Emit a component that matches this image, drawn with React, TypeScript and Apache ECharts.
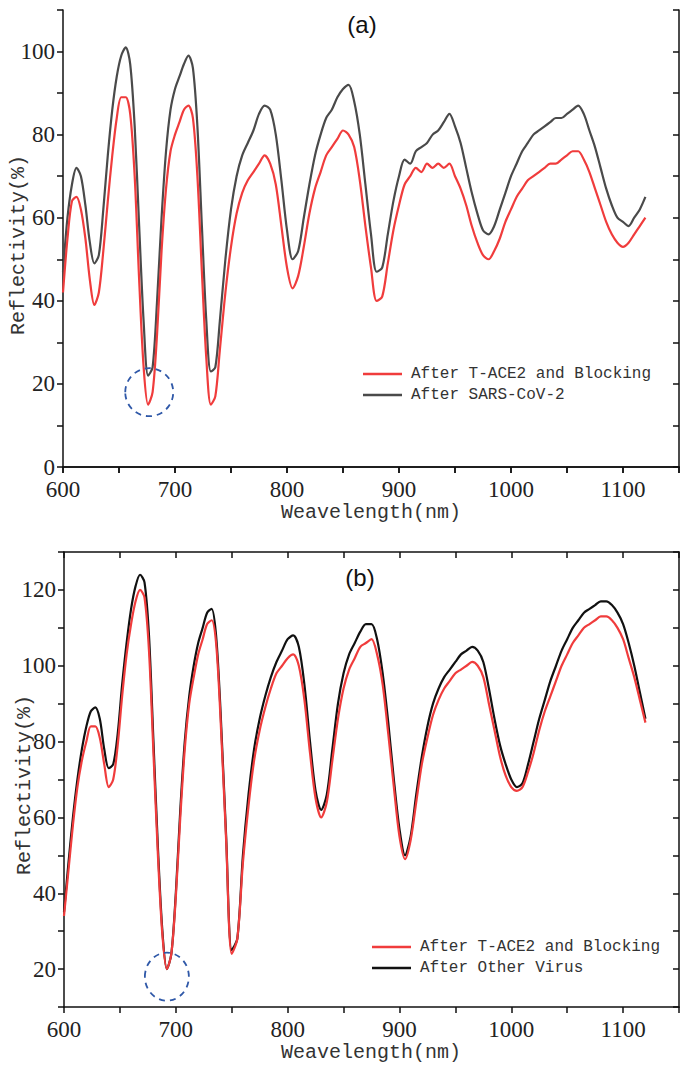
import React, { useEffect, useRef } from "react";
import * as echarts from "echarts";

// Wavelength samples (nm), shared by all series
const WAVELENGTH = [
  600, 604, 608, 612, 616, 620, 624, 628, 632, 636, 640, 644, 648, 652, 656, 660, 664, 668, 672, 676,
  680, 684, 688, 692, 696, 700, 704, 708, 712, 716, 720, 724, 728, 732, 736, 740,
  745, 750, 755, 760, 765, 770, 775, 780, 785, 790, 795, 800, 805, 810, 815, 820, 825, 830, 835, 840,
  845, 850, 855, 860, 865, 870, 875, 880, 885, 890, 895, 900, 905, 910, 915, 920, 925, 930, 935, 940,
  945, 950, 955, 960, 965, 970, 975, 980, 985, 990, 995, 1000, 1005, 1010, 1015, 1020, 1025, 1030,
  1035, 1040, 1045, 1050, 1055, 1060, 1065, 1070, 1075, 1080, 1085, 1090, 1095, 1100, 1105, 1110,
  1115, 1120,
];

// Panel (a): After SARS-CoV-2 (grey)
const A_SARS = [
  47, 60, 68, 72, 70, 63, 54, 49, 51, 62, 75, 86, 94, 99, 101, 97, 82, 58, 35, 22,
  24, 40, 60, 76, 86, 91, 94, 97, 99, 96, 82, 58, 35, 23, 24, 35,
  50, 62, 70, 75, 78, 81, 85, 87, 86, 80, 69, 57, 50, 52, 60, 68, 75, 80, 84, 86,
  89, 91, 92, 88, 80, 68, 56, 47, 48, 56, 64, 70, 74, 73, 76, 77, 78, 80, 81, 83,
  85, 82, 78, 72, 66, 61, 57, 56, 58, 62, 66, 70, 73, 76, 78, 80, 81, 82,
  83, 84, 84, 85, 86, 87, 85, 81, 77, 72, 67, 63, 60, 59, 58, 60,
  62, 65,
];

// Panel (a): After T-ACE2 and Blocking (red)
const A_BLOCK = [
  42, 55, 64, 65, 62, 55, 45, 39, 42, 52, 64, 75, 84, 89, 89, 85, 70, 45, 24, 15,
  18, 32, 52, 67, 76, 80, 83, 86, 87, 84, 70, 47, 26, 15, 17, 28,
  42, 53, 61, 66, 69, 71, 73, 75, 73, 68, 58, 48, 43, 46, 53, 61, 67, 71, 75, 77,
  79, 81, 80, 77, 69, 58, 48, 40, 41, 49, 57, 63, 68, 70, 72, 71, 73, 72, 73, 72,
  73, 70, 67, 63, 58, 54, 51, 50, 52, 55, 59, 62, 65, 67, 69, 70, 71, 72,
  73, 73, 74, 75, 76, 76, 74, 71, 67, 63, 59, 56, 54, 53, 54, 56,
  58, 60,
];

// Panel (b): After Other Virus (black)
const B_OTHER = [
  35, 48, 60, 70, 78, 84, 88, 89, 86, 78, 73, 74, 82, 95, 106, 115, 121, 124, 122, 108,
  80, 52, 30, 20, 24, 40, 62, 80, 92, 100, 106, 110, 114, 115, 108, 88,
  55, 25, 28, 50, 66, 78, 86, 92, 97, 101, 104, 107, 108, 105, 95, 80, 67, 62, 66, 78,
  90, 98, 103, 106, 109, 111, 111, 107, 98, 85, 70, 57, 50, 55, 66, 76, 84, 90, 94, 97,
  99, 101, 103, 104, 105, 104, 101, 94, 86, 79, 74, 70, 68, 69, 74, 80, 86, 91,
  96, 100, 104, 107, 110, 112, 114, 115, 116, 117, 117, 116, 114, 111, 106, 100,
  93, 86,
];

// Panel (b): After T-ACE2 and Blocking (red)
const B_BLOCK = [
  34, 46, 58, 68, 75, 80, 84, 84, 81, 74, 68, 70, 79, 92, 103, 111, 117, 120, 118, 104,
  77, 50, 29, 20, 24, 39, 60, 78, 90, 97, 103, 107, 111, 112, 106, 86,
  54, 24, 28, 48, 63, 75, 83, 89, 94, 98, 100, 102, 103, 100, 91, 77, 65, 60, 64, 75,
  86, 94, 99, 102, 105, 106, 107, 103, 95, 82, 68, 55, 49, 54, 64, 74, 81, 87, 91, 94,
  96, 98, 99, 100, 101, 100, 97, 90, 83, 76, 71, 68, 67, 68, 72, 77, 83, 88,
  92, 96, 100, 103, 106, 108, 110, 111, 112, 113, 113, 112, 110, 107, 102, 97,
  91, 85,
];

const X_TICK_LABELS = [600, 700, 800, 900, 1000, 1100];
const Y_A_TICK_LABELS = [0, 20, 40, 60, 80, 100];
const Y_B_TICK_LABELS = [20, 40, 60, 80, 100, 120];

// Highlighted dips (circled): [wavelength, reflectivity]
const CIRCLE_A = [677, 18];
const CIRCLE_B = [692, 18];

const RED = "#f03c3c";
const GREY = "#4a4a4a";
const BLACK = "#111111";
const BLUE = "#2f58a8";

const SERIF = "'Liberation Serif', 'Times New Roman', serif";
const MONO = "'Liberation Mono', monospace";

function xAxes(gridIndex: number) {
  return [
    {
      type: "value",
      gridIndex,
      min: 600,
      max: 1150,
      interval: 50,
      position: "bottom",
      axisLine: { show: true, lineStyle: { color: "#111", width: 1.5 } },
      axisTick: { show: true, inside: false, length: 6, lineStyle: { color: "#111", width: 1.5 } },
      axisLabel: {
        margin: 11,
        fontFamily: SERIF,
        fontSize: 23,
        color: "#222",
        formatter: (v: number) => (X_TICK_LABELS.includes(v) ? String(v) : ""),
      },
      splitLine: { show: false },
    },
    {
      type: "value",
      gridIndex,
      min: 600,
      max: 1150,
      interval: 50,
      position: "top",
      axisLine: { show: true, lineStyle: { color: "#111", width: 1.5 } },
      axisTick: { show: true, inside: true, length: 6, lineStyle: { color: "#111", width: 1.5 } },
      axisLabel: { show: false },
      splitLine: { show: false },
    },
  ];
}

function yAxes(gridIndex: number, min: number, max: number, labels: number[]) {
  return [
    {
      type: "value",
      gridIndex,
      min,
      max,
      interval: 10,
      position: "left",
      axisLine: { show: true, lineStyle: { color: "#111", width: 1.5 } },
      axisTick: { show: true, inside: false, length: 6, lineStyle: { color: "#111", width: 1.5 } },
      axisLabel: {
        margin: 8,
        fontFamily: SERIF,
        fontSize: 23,
        color: "#222",
        formatter: (v: number) => (labels.includes(v) ? String(v) : ""),
      },
      splitLine: { show: false },
    },
    {
      type: "value",
      gridIndex,
      min,
      max,
      interval: 10,
      position: "right",
      axisLine: { show: true, lineStyle: { color: "#111", width: 1.5 } },
      axisTick: { show: true, inside: true, length: 6, lineStyle: { color: "#111", width: 1.5 } },
      axisLabel: { show: false },
      splitLine: { show: false },
    },
  ];
}

function pairs(ys: number[]) {
  return WAVELENGTH.map((x, i) => [x, ys[i]]);
}

export default function App() {
  const ref = useRef<HTMLDivElement>(null);

  useEffect(() => {
    document.body.style.margin = "0";
    if (!ref.current) return;
    const chart = echarts.init(ref.current, undefined, { renderer: "svg" });

    const lineSeries = (name: string, data: number[], color: string, axisIdx: number, z: number) => ({
      type: "line",
      name,
      xAxisIndex: axisIdx,
      yAxisIndex: axisIdx,
      data: pairs(data),
      showSymbol: false,
      symbol: "none",
      smooth: 0.3,
      lineStyle: { color, width: 2.2 },
      itemStyle: { color },
      z,
      clip: true,
    });

    const legendCommon = {
      orient: "vertical",
      icon: "rect",
      itemWidth: 39,
      itemHeight: 2.5,
      itemGap: 5,
      textStyle: { fontFamily: MONO, fontSize: 16, color: "#333", lineHeight: 16, padding: [0, 0, 0, 4] },
    };

    const option: any = {
      animation: false,
      backgroundColor: "#ffffff",
      grid: [
        { left: 63, top: 10, width: 616, height: 457 },
        { left: 64, top: 552, width: 615, height: 455 },
      ],
      xAxis: [...xAxes(0), ...xAxes(1)],
      yAxis: [...yAxes(0, 0, 110, Y_A_TICK_LABELS), ...yAxes(1, 10, 130, Y_B_TICK_LABELS)],
      legend: [
        {
          ...legendCommon,
          left: 358,
          top: 361,
          data: ["After T-ACE2 and Blocking", "After SARS-CoV-2"],
        },
        {
          ...legendCommon,
          left: 367,
          top: 934,
          data: ["After T-ACE2 and Blocking", "After Other Virus"],
        },
      ],
      series: [
        lineSeries("After SARS-CoV-2", A_SARS, GREY, 0, 2),
        lineSeries("After T-ACE2 and Blocking", A_BLOCK, RED, 0, 3),
        lineSeries("After Other Virus", B_OTHER, BLACK, 2, 2),
        lineSeries("After T-ACE2 and Blocking", B_BLOCK, RED, 2, 3),
      ],
    };
    chart.setOption(option);

    const pa = chart.convertToPixel({ gridIndex: 0 }, CIRCLE_A) as number[];
    const pb = chart.convertToPixel({ gridIndex: 1 }, CIRCLE_B) as number[];

    chart.setOption({
      graphic: [
        {
          type: "text",
          x: 362,
          y: 24,
          style: { text: "(a)", font: "24px 'Liberation Sans'", fill: "#111", align: "center", verticalAlign: "middle" },
        },
        {
          type: "text",
          x: 360,
          y: 577,
          style: { text: "(b)", font: "24px 'Liberation Sans'", fill: "#111", align: "center", verticalAlign: "middle" },
        },
        {
          type: "text",
          x: 371,
          y: 512,
          style: { text: "Weavelength(nm)", font: `20px ${MONO}`, fill: "#333", align: "center", verticalAlign: "middle" },
        },
        {
          type: "text",
          x: 371,
          y: 1052,
          style: { text: "Weavelength(nm)", font: `20px ${MONO}`, fill: "#333", align: "center", verticalAlign: "middle" },
        },
        {
          type: "text",
          x: 18,
          y: 245,
          rotation: Math.PI / 2,
          style: { text: "Reflectivity(%)", font: `20px ${MONO}`, fill: "#333", align: "center", verticalAlign: "middle" },
        },
        {
          type: "text",
          x: 24,
          y: 785,
          rotation: Math.PI / 2,
          style: { text: "Reflectivity(%)", font: `20px ${MONO}`, fill: "#333", align: "center", verticalAlign: "middle" },
        },
        {
          type: "ellipse",
          shape: { cx: pa[0], cy: pa[1], rx: 24, ry: 24 },
          style: { fill: "none", stroke: BLUE, lineWidth: 1.8, lineDash: [6, 5] },
          z: 10,
        },
        {
          type: "ellipse",
          shape: { cx: pb[0], cy: pb[1], rx: 22, ry: 24 },
          style: { fill: "none", stroke: BLUE, lineWidth: 1.8, lineDash: [6, 5] },
          z: 10,
        },
      ],
    });

    return () => chart.dispose();
  }, []);

  return <div ref={ref} style={{ width: 688, height: 1067 }} />;
}
